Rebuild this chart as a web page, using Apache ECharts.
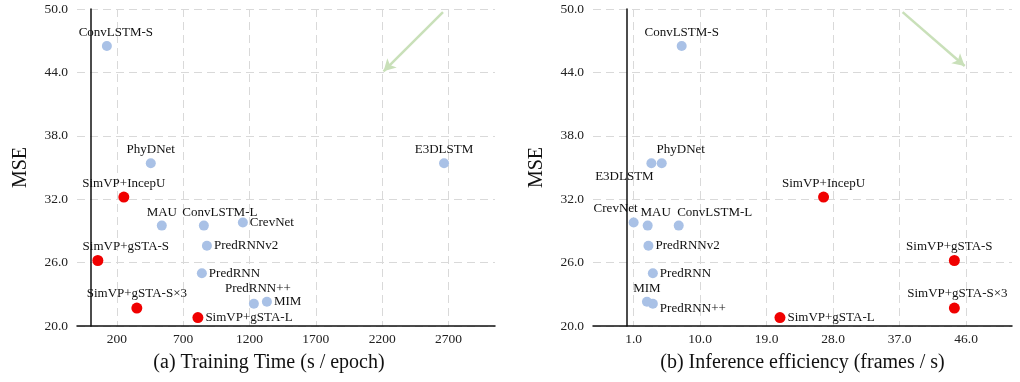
<!DOCTYPE html>
<html>
<head>
<meta charset="utf-8">
<script src="https://cdn.jsdelivr.net/npm/echarts@6/dist/echarts.min.js"></script>
<style>
  html, body { margin: 0; padding: 0; background: #fff; }
  #main { width: 1020px; height: 382px; }
</style>
</head>
<body>
<div id="main"></div>
<script>
// model names and values
const models = ['ConvLSTM-S', 'PhyDNet', 'E3DLSTM', 'SimVP+IncepU', 'MAU', 'ConvLSTM-L', 'CrevNet',
    'PredRNNv2', 'SimVP+gSTA-S', 'PredRNN', 'PredRNN++', 'MIM', 'SimVP+gSTA-S×3', 'SimVP+gSTA-L'];
const mse = [46.5, 35.4, 35.4, 32.2, 29.5, 29.5, 29.8, 27.6, 26.2, 25.0, 22.1, 22.3, 21.7, 20.8];
const trainTime = [125, 456, 2666, 253, 539, 856, 1150, 879, 57, 841, 1233, 1331, 351, 811];
const fps = [7.5, 4.8, 3.4, 26.7, 2.9, 7.1, 1.0, 3.0, 44.4, 3.6, 3.6, 2.8, 44.4, 20.8];

const timeTicks = [200, 700, 1200, 1700, 2200, 2700];
const fpsTicks = [1, 10, 19, 28, 37, 46];

// label placement per model: [position, dx, dy]
const labelLeft = {
    'ConvLSTM-S': ['top', 9, 0], 'PhyDNet': ['top', 0, 0], 'E3DLSTM': ['top', 0, 0],
    'SimVP+IncepU': ['top', 0, 0], 'MAU': ['top', 0, 0], 'ConvLSTM-L': ['top', 16, 0],
    'CrevNet': ['right', 0, 0], 'PredRNNv2': ['right', 0, 0], 'SimVP+gSTA-S': ['top', 28, 0],
    'PredRNN': ['right', 0, 0], 'PredRNN++': ['top', 4, -2], 'MIM': ['right', 0, 0],
    'SimVP+gSTA-S×3': ['top', 0, 0], 'SimVP+gSTA-L': ['right', 0, 0]
};
const labelRight = {
    'ConvLSTM-S': ['top', 0, 0], 'PhyDNet': ['top', 19, 0], 'E3DLSTM': ['bottom', -27, 0],
    'SimVP+IncepU': ['top', 0, 0], 'MAU': ['top', 8, 0], 'ConvLSTM-L': ['top', 36, 0],
    'CrevNet': ['top', -18, 0], 'PredRNNv2': ['right', 0, 0], 'SimVP+gSTA-S': ['top', -5, 0],
    'PredRNN': ['right', 0, 0], 'PredRNN++': ['right', 0, 5], 'MIM': ['top', 0, 0],
    'SimVP+gSTA-S×3': ['top', 3, 0], 'SimVP+gSTA-L': ['right', 0, 0]
};

const FONT = 'Liberation Serif';
const BLUE = '#a9c1e6';
const RED = '#f00000';

function buildData(xs, labels, ours) {
    var out = [];
    for (var i = 0; i < models.length; i++) {
        var isOurs = models[i].indexOf('SimVP') === 0;
        if (isOurs !== ours) continue;
        var l = labels[models[i]];
        out.push({
            name: models[i],
            value: [xs[i], mse[i]],
            label: { position: l[0], offset: [l[1], l[2]] }
        });
    }
    return out;
}

function xAxisCfg(idx, min, max, ticks, name, fmt, pad) {
    return {
        gridIndex: idx, type: 'value', min: min, max: max,
        name: name, nameLocation: 'middle', nameGap: 27,
        nameTextStyle: { fontFamily: FONT, fontSize: 20, color: '#111', padding: pad },
        axisLine: { lineStyle: { color: '#111', width: 1.5 } },
        axisTick: { show: false, customValues: ticks },
        axisLabel: { customValues: ticks, fontFamily: FONT, fontSize: 13.5, color: '#222', margin: 6, formatter: fmt },
        splitLine: { show: true, lineStyle: { color: '#d9d9d9', type: [8, 5], width: 1 } }
    };
}

function yAxisCfg(idx) {
    return {
        gridIndex: idx, type: 'value', min: 20, max: 50, interval: 6,
        name: 'MSE', nameLocation: 'middle', nameGap: 46,
        nameTextStyle: { fontFamily: FONT, fontSize: 20, color: '#111' },
        axisLine: { show: true, lineStyle: { color: '#111', width: 1.5 } },
        axisTick: { show: false },
        axisLabel: { fontFamily: FONT, fontSize: 13.5, color: '#222', margin: 9, formatter: function (v) { return v.toFixed(1); } },
        splitLine: { show: true, lineStyle: { color: '#d9d9d9', type: [8, 5], width: 1 } }
    };
}

function seriesCfg(idx, xs, labels, ours, arrow) {
    var s = {
        type: 'scatter', xAxisIndex: idx, yAxisIndex: idx,
        symbolSize: ours ? 11 : 10,
        itemStyle: { color: ours ? RED : BLUE, opacity: 1 },
        label: {
            show: true, formatter: '{b}', distance: 2,
            fontFamily: FONT, fontSize: 13, color: '#111'
        },
        data: buildData(xs, labels, ours),
        z: ours ? 4 : 3
    };
    if (arrow) {
        s.markLine = {
            silent: true, animation: false,
            symbol: ['none', 'arrow'], symbolSize: [10, 12],
            label: { show: false },
            lineStyle: { color: '#c9e0b9', width: 2.5, type: 'solid' },
            data: [[{ coord: arrow[0] }, { coord: arrow[1] }]]
        };
    }
    return s;
}

const chart = echarts.init(document.getElementById('main'));
chart.setOption({
    animation: false,
    backgroundColor: '#fff',
    grid: [
        { left: 77, right: 525, top: 9, bottom: 56 },
        { left: 593, right: 8, top: 9, bottom: 56 }
    ],
    xAxis: [
        xAxisCfg(0, -100, 3050, timeTicks, '(a) Training Time (s / epoch)', function (v) { return String(v); }, [0, 34, 0, 0]),
        xAxisCfg(1, -4.5, 52.2, fpsTicks, '(b) Inference efficiency (frames / s)', function (v) { return v.toFixed(1); }, [0, 0, 0, 0])
    ],
    yAxis: [yAxisCfg(0), yAxisCfg(1)],
    series: [
        seriesCfg(0, trainTime, labelLeft, false, [[2658, 49.7], [2210, 44.1]]),
        seriesCfg(0, trainTime, labelLeft, true),
        seriesCfg(1, fps, labelRight, false, [[37.4, 49.7], [45.8, 44.6]]),
        seriesCfg(1, fps, labelRight, true)
    ]
});
</script>
</body>
</html>
